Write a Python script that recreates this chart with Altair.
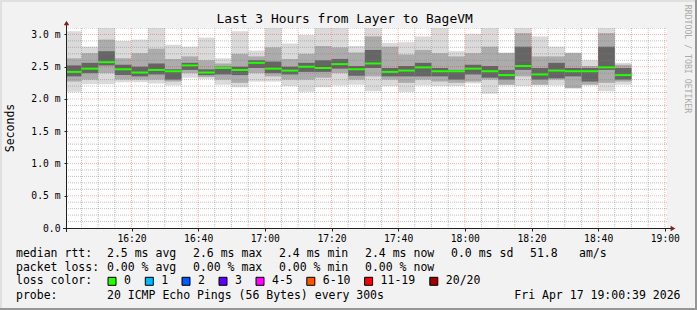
import altair as alt
import pandas as pd

# ---------------- data ----------------
times = ["16:00", "16:05", "16:10", "16:15", "16:20", "16:25", "16:30", "16:35",
         "16:40", "16:45", "16:50", "16:55", "17:00", "17:05", "17:10", "17:15",
         "17:20", "17:25", "17:30", "17:35", "17:40", "17:45", "17:50", "17:55",
         "18:00", "18:05", "18:10", "18:15", "18:20", "18:25", "18:30", "18:35",
         "18:40", "18:45"]
# values in milliseconds
median = [2.42, 2.47, 2.57, 2.46, 2.41, 2.45, 2.43, 2.52, 2.41, 2.48, 2.45, 2.56,
          2.47, 2.44, 2.50, 2.48, 2.54, 2.46, 2.55, 2.42, 2.44, 2.49, 2.43, 2.43,
          2.47, 2.43, 2.37, 2.51, 2.38, 2.44, 2.43, 2.43, 2.49, 2.37]
ping_min = [2.11, 2.23, 2.23, 2.26, 2.26, 2.24, 2.21, 2.33, 2.31, 2.22, 2.18, 2.27,
            2.27, 2.20, 2.11, 2.18, 2.21, 2.22, 2.12, 2.20, 2.11, 2.21, 2.20, 2.20,
            2.24, 2.08, 2.21, 2.20, 2.21, 2.21, 2.16, 2.21, 2.12, 2.22]
ping_max = [3.05, 2.81, 3.10, 2.90, 2.92, 3.10, 2.84, 2.81, 2.95, 2.63, 3.05, 2.75,
            3.10, 2.86, 2.99, 3.10, 3.10, 2.82, 3.10, 2.87, 2.88, 2.97, 3.10, 2.74,
            3.01, 3.10, 2.72, 3.10, 2.97, 2.81, 2.72, 2.60, 3.10, 2.56]
band_hi = [2.63, 2.71, 2.92, 2.63, 2.71, 2.78, 2.62, 2.66, 2.60, 2.55, 2.70, 2.66,
           2.80, 2.62, 2.70, 2.82, 2.80, 2.72, 2.97, 2.81, 2.69, 2.76, 2.71, 2.66,
           2.71, 2.81, 2.71, 3.02, 2.66, 2.66, 2.71, 2.51, 3.02, 2.53]
band_lo = [2.27, 2.30, 2.40, 2.30, 2.30, 2.30, 2.27, 2.40, 2.34, 2.30, 2.25, 2.40,
           2.35, 2.30, 2.30, 2.33, 2.40, 2.30, 2.35, 2.30, 2.25, 2.30, 2.27, 2.25,
           2.27, 2.30, 2.22, 2.35, 2.22, 2.30, 2.17, 2.22, 2.25, 2.27]
core_hi = [2.52, 2.56, 2.74, 2.53, 2.50, 2.55, 2.46, 2.56, 2.46, 2.50, 2.50, 2.60,
           2.58, 2.50, 2.56, 2.60, 2.62, 2.51, 2.76, 2.48, 2.51, 2.56, 2.48, 2.45,
           2.53, 2.51, 2.45, 2.81, 2.48, 2.56, 2.48, 2.48, 2.81, 2.48]
core_lo = [2.35, 2.40, 2.52, 2.37, 2.35, 2.38, 2.30, 2.45, 2.37, 2.38, 2.37, 2.48,
           2.40, 2.38, 2.42, 2.42, 2.47, 2.36, 2.48, 2.35, 2.35, 2.35, 2.35, 2.30,
           2.38, 2.33, 2.30, 2.45, 2.30, 2.32, 2.35, 2.27, 2.45, 2.30]

x_tick_values = [20, 40, 60, 80, 100, 120, 140, 160, 180]          # minutes after 16:00
y_tick_values = [0.0, 0.5, 1.0, 1.5, 2.0, 2.5, 3.0]
x_minor = [5, 10, 15, 25, 30, 35, 45, 50, 55, 65, 70, 75, 85, 90, 95, 105, 110, 115,
           125, 130, 135, 145, 150, 155, 165, 170, 175]
y_minor = [0.1, 0.2, 0.3, 0.4, 0.6, 0.7, 0.8, 0.9, 1.1, 1.2, 1.3, 1.4, 1.6, 1.7, 1.8,
           1.9, 2.1, 2.2, 2.3, 2.4, 2.6, 2.7, 2.8, 2.9, 3.1]

title_text = "Last 3 Hours from Layer to BageVM"
rtt_stats = ["2.5 ms avg", "2.6 ms max", "2.4 ms min", "2.4 ms now", "0.0 ms sd"]
rtt_extra = ["51.8", "am/s"]
loss_stats = ["0.00 % avg", "0.00 % max", "0.00 % min", "0.00 % now"]
loss_labels = ["0", "1", "2", "3", "4-5", "6-10", "11-19", "20/20"]
loss_colors = ["#26ff00", "#00b8ff", "#0059ff", "#5e00ff", "#ff00ff", "#ff5500",
               "#ff0000", "#a00000"]
probe_text = "20 ICMP Echo Pings (56 Bytes) every 300s"
date_text = "Fri Apr 17 19:00:39 2026"


def to_min(t):
    h, m = t.split(":")
    return (int(h) - 16) * 60 + int(m)


start = [to_min(t) for t in times]
end = [s + 5 for s in start]   # 300 s step

df = pd.DataFrame(dict(start=start, end=end, median=median, lo1=ping_min,
                       hi1=ping_max, lo2=band_lo, hi2=band_hi, lo3=core_lo,
                       hi3=core_hi))

MONO = "DejaVu Sans Mono"
xscale = alt.Scale(domain=[0.65, 180.65], nice=False, zero=False)
yscale = alt.Scale(domain=[0, 3.1], nice=False, zero=False)

xaxis = alt.Axis(values=x_tick_values,
                 labelExpr="(16 + floor(datum.value / 60)) + ':' + "
                           "(datum.value % 60 < 10 ? '0' : '') + (datum.value % 60)",
                 title=None, grid=False, domain=False, tickSize=3,
                 tickColor="#202020", labelFont=MONO, labelFontSize=9.7,
                 labelColor="black", labelPadding=2, labelFlush=False,
                 labelOverlap=False)
yaxis = alt.Axis(values=y_tick_values,
                 labelExpr="datum.value == 0 ? '0.0' : format(datum.value, '.1f') + ' m'",
                 title=None, grid=False, domain=False, tickSize=3,
                 tickColor="#202020", labelFont=MONO, labelFontSize=9.7,
                 labelColor="black", labelPadding=4, labelFlush=False,
                 labelOverlap=False)


def X(f):
    return alt.X(f, scale=xscale, axis=xaxis)


def Y(f):
    return alt.Y(f, scale=yscale, axis=yaxis)


base = alt.Chart(df)
smoke1 = base.mark_rect(color="#dadada", clip=True).encode(
    x=X("start:Q"), x2="end:Q", y=Y("lo1:Q"), y2="hi1:Q")
smoke2 = base.mark_rect(color="#acacac", clip=True).encode(
    x=X("start:Q"), x2="end:Q", y=Y("lo2:Q"), y2="hi2:Q")
smoke3 = base.mark_rect(color="#656565", clip=True).encode(
    x=X("start:Q"), x2="end:Q", y=Y("lo3:Q"), y2="hi3:Q")

grid_vx = alt.Chart(pd.DataFrame({"start": x_minor})).mark_rule(
    color="#808080", opacity=0.5, strokeDash=[1, 1], strokeWidth=1).encode(
    x=X("start:Q"))
grid_hy = alt.Chart(pd.DataFrame({"lo1": y_minor})).mark_rule(
    color="#808080", opacity=0.5, strokeDash=[1, 1], strokeWidth=1, clip=True).encode(
    y=Y("lo1:Q"))
grid_VX = alt.Chart(pd.DataFrame({"start": x_tick_values})).mark_rule(
    color="#ff0000", opacity=0.3, strokeDash=[1, 1], strokeWidth=1).encode(
    x=X("start:Q"))
grid_HY = alt.Chart(pd.DataFrame({"lo1": y_tick_values[1:]})).mark_rule(
    color="#ff0000", opacity=0.3, strokeDash=[1, 1], strokeWidth=1).encode(
    y=Y("lo1:Q"))

med = base.mark_rule(color="#22ff00", strokeWidth=2, clip=True).encode(
    x=X("start:Q"), x2="end:Q", y=Y("median:Q"))

one = pd.DataFrame({"k": [0]})
x_axis_line = alt.Chart(one).mark_rule(color="#202020", strokeWidth=1).encode(
    x=alt.value(-4), x2=alt.value(604), y=alt.value(200.5))
y_axis_line = alt.Chart(one).mark_rule(color="#202020", strokeWidth=1).encode(
    x=alt.value(-0.5), y=alt.value(-3), y2=alt.value(204))
arrow_x = alt.Chart(one).mark_point(shape="triangle-right", filled=True,
                                    color="#802020", opacity=1, size=30).encode(
    x=alt.value(606), y=alt.value(200.5))
arrow_y = alt.Chart(one).mark_point(shape="triangle-up", filled=True,
                                    color="#802020", opacity=1, size=30).encode(
    x=alt.value(-0.5), y=alt.value(-5))


def txt(s, x, y, size=11.5, align="left", color="black", angle=0):
    kw = dict(font=MONO, fontSize=size, align=align, baseline="middle", color=color)
    if angle:
        kw["angle"] = angle
    return alt.Chart(pd.DataFrame({"t": [s]})).mark_text(**kw).encode(
        text="t:N", x=alt.value(x), y=alt.value(y))


texts = []
texts.append(txt(title_text, 277.6, -9, size=12.9, align="center"))
texts.append(txt("Seconds", -56, 100, size=11.5, align="center", angle=270))
texts.append(txt("RRDTOOL / TOBI OETIKER", 620, 31, size=8.2, align="center",
                 color="#aaaaaa", angle=90))

L1, L2, L3, L4 = 226, 240.3, 253.3, 268.3
cols = [40, 126, 212, 298, 384]
texts.append(txt("median rtt:", -51, L1))
for s, x in zip(rtt_stats, cols):
    texts.append(txt(s, x, L1))
for s, x in zip(rtt_extra, [463, 512]):
    texts.append(txt(s, x, L1))
texts.append(txt("packet loss:", -51, L2))
for s, x in zip(loss_stats, cols):
    texts.append(txt(s, x, L2))
texts.append(txt("loss color:", -51, L3))
box_x = [45, 82.3, 119, 156, 193, 243.8, 301.6, 366.8]
boxes = []
for lab, colr, bx in zip(loss_labels, loss_colors, box_x):
    boxes.append(alt.Chart(one).mark_square(size=64, filled=True, color=colr,
                                            stroke="black", strokeWidth=1,
                                            opacity=1).encode(
        x=alt.value(bx), y=alt.value(L3)))
    texts.append(txt(lab, bx + 12, L3))
texts.append(txt("probe:", -51, L4))
texts.append(txt(probe_text, 40, L4))
texts.append(txt(date_text, 613.5, L4, align="right"))

frame = [
    alt.Chart(one).mark_rule(color="#e0e0e0", strokeWidth=2).encode(
        x=alt.value(-67), x2=alt.value(630), y=alt.value(-27)),
    alt.Chart(one).mark_rule(color="#e0e0e0", strokeWidth=2).encode(
        x=alt.value(-66), y=alt.value(-28), y2=alt.value(282)),
    alt.Chart(one).mark_rule(color="#969696", strokeWidth=2).encode(
        x=alt.value(-67), x2=alt.value(630), y=alt.value(281)),
    alt.Chart(one).mark_rule(color="#969696", strokeWidth=2).encode(
        x=alt.value(629), y=alt.value(-28), y2=alt.value(282)),
]

chart = alt.layer(
    smoke1, smoke2, smoke3, grid_vx, grid_hy, grid_VX, grid_HY, med,
    x_axis_line, y_axis_line, arrow_x, arrow_y, *boxes, *texts, *frame
).properties(
    width=600, height=200,
    padding={"left": 67, "top": 28, "right": 30, "bottom": 82},
    autosize=alt.AutoSizeParams(type="none"),
    background="#f2f2f2",
).configure_view(fill="white", stroke=None)

chart.save("out.html", embed_options={"renderer": "svg", "actions": False})
